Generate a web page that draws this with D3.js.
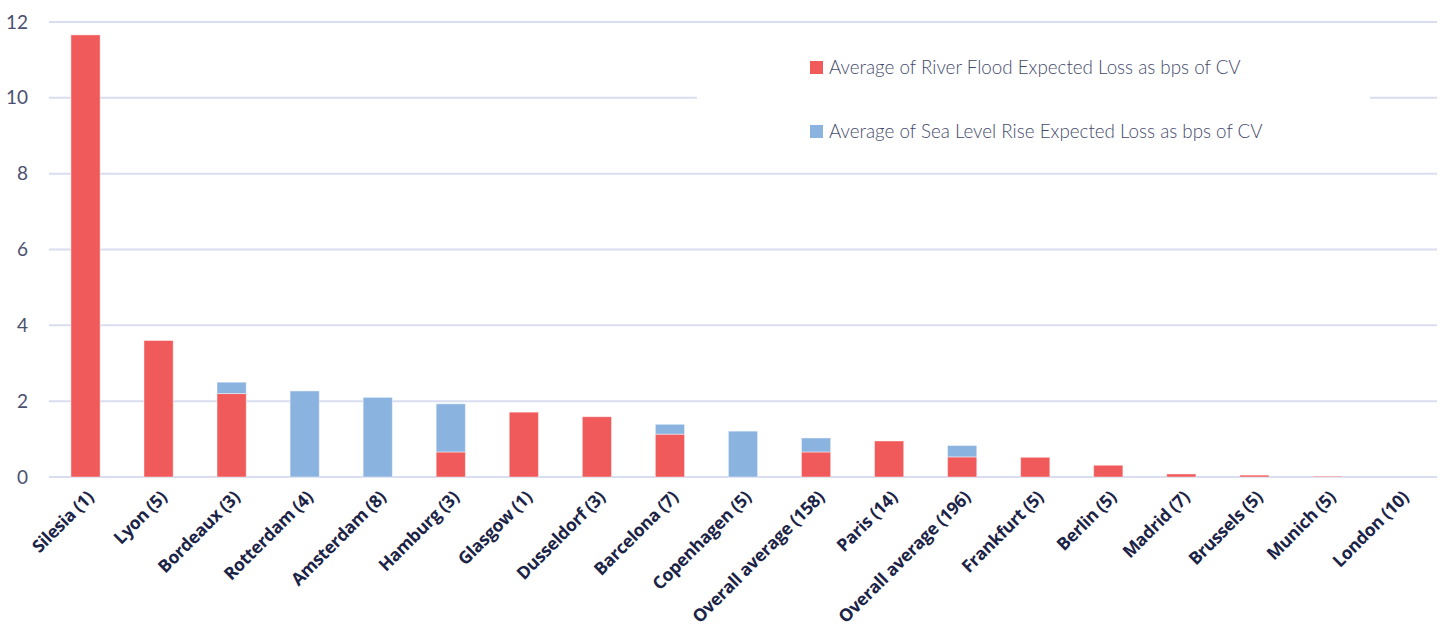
<!DOCTYPE html>
<html>
<head>
<meta charset="utf-8">
<script src="https://cdn.jsdelivr.net/npm/d3@7"></script>
<style>
  html, body { margin: 0; padding: 0; background: #ffffff; }
  svg { display: block; }
</style>
</head>
<body>
<svg id="chart" width="1446" height="632"></svg>
<script>
// Expected loss by city, in basis points of capital value (count of assets in brackets)
const categories = [
  "Silesia (1)", "Lyon (5)", "Bordeaux (3)", "Rotterdam (4)", "Amsterdam (8)",
  "Hamburg (3)", "Glasgow (1)", "Dusseldorf (3)", "Barcelona (7)", "Copenhagen (5)",
  "Overall average (158)", "Paris (14)", "Overall average (196)", "Frankfurt (5)",
  "Berlin (5)", "Madrid (7)", "Brussels (5)", "Munich (5)", "London (10)"
];
const riverFlood = [11.66, 3.6, 2.2, 0, 0, 0.66, 1.71, 1.59, 1.13, 0, 0.66, 0.95, 0.53, 0.52, 0.31, 0.08, 0.05, 0.02, 0];
const seaLevelRise = [0, 0, 0.3, 2.27, 2.1, 1.27, 0, 0, 0.26, 1.21, 0.37, 0, 0.3, 0, 0, 0, 0, 0, 0];
const seriesNames = [
  "Average of River Flood Expected Loss as bps of CV",
  "Average of Sea Level Rise Expected Loss as bps of CV"
];
const yTicks = [0, 2, 4, 6, 8, 10, 12];

const colors = ["#f05a5b", "#8bb3e0"];
const svg = d3.select("#chart");

const x = d3.scaleBand().domain(categories).range([49, 1437]).paddingInner(0.6).paddingOuter(0.3);
const y = d3.scaleLinear().domain([0, 12]).range([477, 22]);

// gridlines
svg.append("g")
  .selectAll("line")
  .data(yTicks)
  .join("line")
  .attr("x1", 49).attr("x2", 1437)
  .attr("y1", d => y(d)).attr("y2", d => y(d))
  .attr("stroke", "#d9ddf0").attr("stroke-width", 2);

// y axis labels
const yAxis = d3.axisLeft(y).tickValues(yTicks).tickSize(0).tickPadding(0).tickFormat(d3.format("d"));
svg.append("g")
  .attr("transform", "translate(28,0)")
  .call(yAxis)
  .call(g => g.select(".domain").remove())
  .selectAll("text")
  .attr("font-family", "Lato, sans-serif")
  .attr("font-weight", 400)
  .attr("font-size", 19)
  .attr("fill", "#4b5070");

// stacked bars
const rows = categories.map((c, i) => ({ cat: c, river: riverFlood[i], sea: seaLevelRise[i] }));
const stack = d3.stack().keys(["river", "sea"])(rows);

svg.append("g")
  .selectAll("g")
  .data(stack)
  .join("g")
  .attr("fill", (d, i) => colors[i])
  .selectAll("rect")
  .data(d => d.filter(s => s[1] - s[0] > 0))
  .join("rect")
  .attr("x", d => x(d.data.cat))
  .attr("width", x.bandwidth())
  .attr("y", d => y(d[1]))
  .attr("height", d => y(d[0]) - y(d[1]))
  .attr("stroke", "#ffffff")
  .attr("stroke-opacity", 0.45)
  .attr("stroke-width", 1);

// x axis labels
const xAxis = d3.axisBottom(x).tickSize(0).tickPadding(0);
svg.append("g")
  .attr("transform", "translate(0,494)")
  .call(xAxis)
  .call(g => g.select(".domain").remove())
  .selectAll("text")
  .attr("font-family", "'Open Sans', sans-serif")
  .attr("font-weight", 700)
  .attr("font-size", 17.5)
  .attr("letter-spacing", "-0.3px")
  .attr("fill", "#1b2346")
  .attr("text-anchor", "end")
  .attr("dy", "0.35em")
  .attr("transform", "translate(5,0) rotate(-45)");

// legend
const legend = svg.append("g");
legend.append("rect")
  .attr("x", 697).attr("y", 28).attr("width", 673).attr("height", 132)
  .attr("fill", "#ffffff");
const items = legend.selectAll("g.item")
  .data(seriesNames)
  .join("g")
  .attr("class", "item")
  .attr("transform", (d, i) => `translate(810,${61 + i * 64})`);
items.append("rect")
  .attr("width", 13).attr("height", 13)
  .attr("fill", (d, i) => colors[i]);
items.append("text")
  .attr("x", 19).attr("y", 12.5)
  .attr("font-family", "Lato, sans-serif")
  .attr("font-weight", 300)
  .attr("font-size", 18.8)
  .attr("fill", "#444a6b")
  .text(d => d);
</script>
</body>
</html>
